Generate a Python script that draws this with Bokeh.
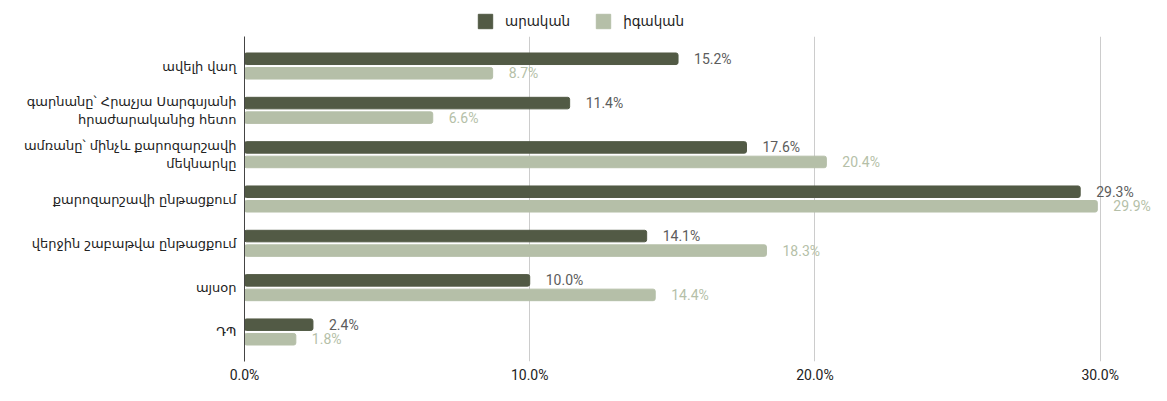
from bokeh.plotting import figure
from bokeh.layouts import column
from bokeh.models import ColumnDataSource, FactorRange, Range1d, FixedTicker, Legend, LegendItem
from bokeh.transform import dodge
from bokeh.core.properties import value
from bokeh.embed import file_html
from bokeh.resources import INLINE

categories = [
    "ավելի վաղ",
    "գարնանը՝ Հրաչյա Սարգսյանի\nհրաժարականից հետո",
    "ամռանը՝ մինչև քարոզարշավի\nմեկնարկը",
    "քարոզարշավի ընթացքում",
    "վերջին շաբաթվա ընթացքում",
    "այսօր",
    "ԴՊ",
]
male = [15.2, 11.4, 17.6, 29.3, 14.1, 10.0, 2.4]
female = [8.7, 6.6, 20.4, 29.9, 18.3, 14.4, 1.8]
series_names = ["արական", "իգական"]
tick_values = [0, 10, 20, 30]
tick_labels = ["0.0%", "10.0%", "20.0%", "30.0%"]

DARK = "#525a45"
LIGHT = "#b5bfa8"

src = ColumnDataSource(dict(
    cat=categories,
    male=male,
    female=female,
    male_lbl=[f"{v:.1f}%" for v in male],
    female_lbl=[f"{v:.1f}%" for v in female],
))

# ---- legend strip (its frame is aligned with the main chart's frame) ----
lg = figure(width=1151, height=36, x_range=Range1d(0, 1), y_range=Range1d(0, 1),
            output_backend="svg", toolbar_location=None,
            min_border_left=244, min_border_right=0, min_border_top=0, min_border_bottom=0)
lg.axis.visible = False
lg.grid.visible = False
lg.outline_line_color = None
# proxy glyphs, kept outside the visible range: only their legend swatches show
proxy = ColumnDataSource(dict(y=[-10], right=[0]))
d1 = lg.hbar(y="y", right="right", left=0, height=0.5, source=proxy, fill_color=DARK, line_color=DARK)
d2 = lg.hbar(y="y", right="right", left=0, height=0.5, source=proxy, fill_color=LIGHT, line_color=LIGHT)
legend = Legend(
    items=[LegendItem(label=series_names[0], renderers=[d1]),
           LegendItem(label=series_names[1], renderers=[d2])],
    orientation="horizontal",
    location=(232, 6),
    glyph_width=18, glyph_height=18, label_height=18,
    label_standoff=11, spacing=24, padding=4, margin=0,
    label_text_font="DejaVu Sans", label_text_font_size="13.5px", label_text_color="#222222",
    border_line_color=None, background_fill_alpha=0,
)
lg.add_layout(legend, "center")

# ---- main chart ----
p = figure(
    width=1151, height=349,
    y_range=FactorRange(factors=categories[::-1], range_padding=0.0475),
    x_range=Range1d(0, 31.8),
    output_backend="svg", toolbar_location=None,
    min_border_left=244, min_border_right=0, min_border_top=0, min_border_bottom=21,
)
p.outline_line_color = None
p.background_fill_color = "white"
p.border_fill_color = "white"

bar_h = 0.26
off = 0.164
p.hbar(y=dodge("cat", off, range=p.y_range), right="male", left=0, height=bar_h,
       source=src, fill_color=DARK, line_color=DARK, border_radius=2)
p.hbar(y=dodge("cat", -off, range=p.y_range), right="female", left=0, height=bar_h,
       source=src, fill_color=LIGHT, line_color=LIGHT, border_radius=2)

p.text(x="male", y=dodge("cat", off, range=p.y_range), text="male_lbl", source=src,
       x_offset=16, text_baseline="middle", text_align="left",
       text_font=value("Roboto"), text_font_size="14px", text_color="#5c5c5c")
p.text(x="female", y=dodge("cat", -off, range=p.y_range), text="female_lbl", source=src,
       x_offset=16, text_baseline="middle", text_align="left",
       text_font=value("Roboto"), text_font_size="14px", text_color=LIGHT)

p.xaxis.ticker = FixedTicker(ticks=tick_values)
p.xaxis.major_label_overrides = {v: l for v, l in zip(tick_values, tick_labels)}
p.xaxis.axis_line_color = None
p.xaxis.major_tick_line_color = None
p.xaxis.major_tick_out = 0
p.xaxis.major_tick_in = 0
p.xaxis.minor_tick_line_color = None
p.xaxis.major_label_standoff = 5
p.xaxis.major_label_text_font = "Roboto"
p.xaxis.major_label_text_font_size = "14px"
p.xaxis.major_label_text_color = "#222222"

p.yaxis.axis_line_color = "#444444"
p.yaxis.axis_line_width = 1
p.yaxis.major_tick_line_color = None
p.yaxis.major_tick_out = 0
p.yaxis.major_tick_in = 0
p.yaxis.minor_tick_line_color = None
p.yaxis.major_label_standoff = 8
p.yaxis.major_label_text_font = "DejaVu Sans"
p.yaxis.major_label_text_font_size = "13px"
p.yaxis.major_label_text_color = "#222222"

p.ygrid.grid_line_color = None
p.xgrid.grid_line_color = "#cccccc"
p.xgrid.ticker = FixedTicker(ticks=[10, 20, 30])

layout = column(lg, p)
open("out.html", "w").write(file_html(layout, INLINE))
